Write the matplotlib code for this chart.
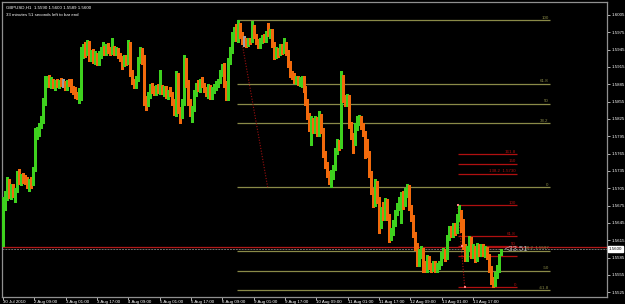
import numpy as np
import matplotlib
matplotlib.use("Agg")
import matplotlib.pyplot as plt

plt.rcParams['font.family'] = ['Liberation Sans', 'DejaVu Sans']

# ---------------- data (GBPUSD H1) ----------------
opens = [1.5610,1.5680,1.5690,1.5718,1.5692,1.5708,1.5695,1.5700,1.5730,1.5715,
 1.5726,1.5720,1.5715,1.5710,1.5718,1.5712,1.5738,1.5800,1.5808,1.5815,
 1.5822,1.5858,1.5892,1.5895,1.5885,1.5890,1.5882,1.5888,1.5884,1.5890,
 1.5886,1.5886,1.5880,1.5888,1.5885,1.5875,1.5872,1.5866,1.5863,1.5865,
 1.5940,1.5950,1.5938,1.5955,1.5932,1.5940,1.5928,1.5936,1.5922,1.5935,
 1.5945,1.5948,1.5940,1.5950,1.5944,1.5940,1.5948,1.5942,1.5945,1.5934,
 1.5930,1.5920,1.5930,1.5925,1.5955,1.5905,1.5890,1.5882,1.5895,1.5928,
 1.5945,1.5925,1.5858,1.5852,1.5868,1.5880,1.5876,1.5870,1.5880,1.5874,
 1.5876,1.5872,1.5878,1.5866,1.5872,1.5868,1.5855,1.5838,1.5900,1.5840,
 1.5830,1.5855,1.5925,1.5888,1.5856,1.5838,1.5842,1.5870,1.5884,1.5878,
 1.5890,1.5884,1.5876,1.5868,1.5880,1.5865,1.5876,1.5882,1.5886,1.5892,
 1.5905,1.5915,1.5885,1.5862,1.5925,1.5945,1.5968,1.5978,1.5965,1.5985,
 1.5970,1.5960,1.5960,1.5958,1.5962,1.5960,1.5985,1.5968,1.5958,1.5952,
 1.5962,1.5966,1.5962,1.5974,1.5972,1.5976,1.5955,1.5935,1.5945,1.5938,
 1.5950,1.5942,1.5955,1.5940,1.5920,1.5902,1.5900,1.5892,1.5896,1.5888,
 1.5894,1.5896,1.5878,1.5855,1.5830,1.5810,1.5822,1.5805,1.5820,1.5800,
 1.5830,1.5806,1.5765,1.5745,1.5730,1.5718,1.5730,1.5740,1.5770,1.5785,
 1.5778,1.5900,1.5860,1.5855,1.5862,1.5815,1.5795,1.5785,1.5812,1.5825,
 1.5828,1.5812,1.5800,1.5785,1.5765,1.5730,1.5700,1.5680,1.5715,1.5685,
 1.5640,1.5665,1.5655,1.5682,1.5655,1.5628,1.5630,1.5645,1.5662,1.5675,
 1.5684,1.5690,1.5678,1.5700,1.5706,1.5672,1.5655,1.5625,1.5605,1.5575,
 1.5595,1.5600,1.5568,1.5565,1.5585,1.5570,1.5565,1.5576,1.5564,1.5570,
 1.5575,1.5590,1.5598,1.5586,1.5620,1.5635,1.5628,1.5640,1.5632,1.5655,
 1.5665,1.5640,1.5605,1.5585,1.5600,1.5618,1.5590,1.5602,1.5585,1.5605,
 1.5592,1.5604,1.5592,1.5600,1.5588,1.5565,1.5548,1.5540,1.5555,1.5566,
 1.5590]
highs = [1.5690,1.5700,1.5725,1.5722,1.5712,1.5712,1.5705,1.5735,1.5738,1.5730,
 1.5732,1.5728,1.5724,1.5722,1.5725,1.5742,1.5810,1.5812,1.5818,1.5830,
 1.5862,1.5900,1.5900,1.5902,1.5898,1.5895,1.5892,1.5894,1.5892,1.5896,
 1.5894,1.5890,1.5892,1.5895,1.5895,1.5882,1.5880,1.5872,1.5878,1.5950,
 1.5955,1.5958,1.5962,1.5960,1.5945,1.5946,1.5942,1.5940,1.5942,1.5950,
 1.5958,1.5952,1.5955,1.5956,1.5950,1.5965,1.5952,1.5950,1.5948,1.5940,
 1.5934,1.5935,1.5936,1.5962,1.5958,1.5910,1.5895,1.5900,1.5932,1.5950,
 1.5948,1.5935,1.5865,1.5872,1.5885,1.5888,1.5882,1.5884,1.5886,1.5910,
 1.5884,1.5882,1.5882,1.5876,1.5880,1.5872,1.5860,1.5908,1.5904,1.5846,
 1.5860,1.5935,1.5930,1.5892,1.5860,1.5848,1.5875,1.5888,1.5892,1.5895,
 1.5898,1.5888,1.5880,1.5885,1.5884,1.5880,1.5886,1.5890,1.5895,1.5910,
 1.5920,1.5922,1.5890,1.5930,1.5950,1.5975,1.5985,1.5990,1.5996,1.5992,
 1.5975,1.5968,1.5966,1.5965,1.5966,1.5994,1.5988,1.5972,1.5964,1.5966,
 1.5970,1.5972,1.5978,1.5992,1.5980,1.5980,1.5958,1.5950,1.5948,1.5955,
 1.5954,1.5965,1.5958,1.5944,1.5925,1.5908,1.5905,1.5900,1.5900,1.5898,
 1.5900,1.5900,1.5882,1.5860,1.5835,1.5830,1.5826,1.5830,1.5828,1.5838,
 1.5834,1.5810,1.5770,1.5750,1.5735,1.5736,1.5745,1.5775,1.5790,1.5788,
 1.5908,1.5902,1.5866,1.5868,1.5866,1.5820,1.5800,1.5818,1.5830,1.5832,
 1.5830,1.5818,1.5805,1.5790,1.5770,1.5735,1.5705,1.5722,1.5718,1.5690,
 1.5672,1.5682,1.5688,1.5686,1.5660,1.5636,1.5650,1.5668,1.5680,1.5690,
 1.5698,1.5700,1.5705,1.5712,1.5710,1.5676,1.5658,1.5630,1.5610,1.5600,
 1.5605,1.5602,1.5580,1.5590,1.5588,1.5575,1.5580,1.5580,1.5575,1.5580,
 1.5595,1.5602,1.5600,1.5625,1.5640,1.5640,1.5645,1.5645,1.5660,1.5676,
 1.5668,1.5652,1.5608,1.5606,1.5622,1.5620,1.5608,1.5606,1.5610,1.5608,
 1.5608,1.5608,1.5606,1.5604,1.5592,1.5570,1.5552,1.5560,1.5572,1.5592,
 1.5600]
lows = [1.5605,1.5668,1.5685,1.5688,1.5686,1.5690,1.5682,1.5698,1.5712,1.5710,
 1.5714,1.5712,1.5705,1.5700,1.5706,1.5710,1.5735,1.5790,1.5795,1.5810,
 1.5818,1.5850,1.5880,1.5880,1.5878,1.5878,1.5876,1.5880,1.5878,1.5882,
 1.5880,1.5876,1.5876,1.5882,1.5872,1.5868,1.5862,1.5860,1.5852,1.5858,
 1.5930,1.5932,1.5935,1.5925,1.5925,1.5922,1.5920,1.5918,1.5918,1.5930,
 1.5938,1.5936,1.5936,1.5940,1.5935,1.5938,1.5936,1.5935,1.5930,1.5925,
 1.5912,1.5916,1.5918,1.5920,1.5900,1.5885,1.5878,1.5878,1.5890,1.5922,
 1.5920,1.5850,1.5840,1.5848,1.5862,1.5870,1.5866,1.5866,1.5870,1.5868,
 1.5868,1.5864,1.5862,1.5860,1.5865,1.5850,1.5832,1.5830,1.5835,1.5818,
 1.5826,1.5850,1.5880,1.5850,1.5830,1.5820,1.5838,1.5865,1.5874,1.5872,
 1.5880,1.5872,1.5864,1.5862,1.5860,1.5860,1.5870,1.5876,1.5880,1.5888,
 1.5900,1.5880,1.5858,1.5858,1.5920,1.5940,1.5960,1.5960,1.5958,1.5965,
 1.5955,1.5952,1.5950,1.5952,1.5955,1.5958,1.5965,1.5955,1.5948,1.5948,
 1.5956,1.5958,1.5958,1.5968,1.5966,1.5950,1.5928,1.5930,1.5932,1.5935,
 1.5938,1.5940,1.5935,1.5915,1.5898,1.5895,1.5888,1.5885,1.5884,1.5882,
 1.5880,1.5872,1.5850,1.5825,1.5805,1.5780,1.5800,1.5800,1.5795,1.5796,
 1.5800,1.5760,1.5740,1.5725,1.5712,1.5707,1.5722,1.5736,1.5765,1.5772,
 1.5774,1.5855,1.5848,1.5848,1.5810,1.5790,1.5766,1.5780,1.5806,1.5815,
 1.5808,1.5795,1.5758,1.5760,1.5725,1.5695,1.5672,1.5675,1.5680,1.5628,
 1.5636,1.5650,1.5650,1.5650,1.5612,1.5615,1.5625,1.5640,1.5658,1.5668,
 1.5645,1.5670,1.5675,1.5690,1.5668,1.5648,1.5620,1.5598,1.5570,1.5570,
 1.5585,1.5560,1.5560,1.5560,1.5565,1.5560,1.5562,1.5560,1.5560,1.5565,
 1.5572,1.5585,1.5580,1.5582,1.5615,1.5620,1.5620,1.5625,1.5628,1.5648,
 1.5630,1.5600,1.5580,1.5580,1.5596,1.5585,1.5584,1.5578,1.5580,1.5588,
 1.5588,1.5588,1.5586,1.5582,1.5560,1.5540,1.5534,1.5536,1.5550,1.5560,
 1.5589]
closes = [1.5680,1.5690,1.5718,1.5692,1.5708,1.5695,1.5700,1.5730,1.5715,1.5726,
 1.5720,1.5715,1.5710,1.5718,1.5712,1.5738,1.5800,1.5808,1.5815,1.5822,
 1.5858,1.5892,1.5895,1.5885,1.5890,1.5882,1.5888,1.5884,1.5890,1.5886,
 1.5886,1.5880,1.5888,1.5885,1.5875,1.5872,1.5866,1.5863,1.5865,1.5940,
 1.5950,1.5938,1.5955,1.5932,1.5940,1.5928,1.5936,1.5922,1.5935,1.5945,
 1.5948,1.5940,1.5950,1.5944,1.5940,1.5948,1.5942,1.5945,1.5934,1.5930,
 1.5920,1.5930,1.5925,1.5955,1.5905,1.5890,1.5882,1.5895,1.5928,1.5945,
 1.5925,1.5858,1.5852,1.5868,1.5880,1.5876,1.5870,1.5880,1.5874,1.5876,
 1.5872,1.5878,1.5866,1.5872,1.5868,1.5855,1.5838,1.5900,1.5840,1.5830,
 1.5855,1.5925,1.5888,1.5856,1.5838,1.5842,1.5870,1.5884,1.5878,1.5890,
 1.5884,1.5876,1.5868,1.5880,1.5865,1.5876,1.5882,1.5886,1.5892,1.5905,
 1.5915,1.5885,1.5862,1.5925,1.5945,1.5968,1.5978,1.5965,1.5985,1.5970,
 1.5960,1.5960,1.5958,1.5962,1.5960,1.5985,1.5968,1.5958,1.5952,1.5962,
 1.5966,1.5962,1.5974,1.5972,1.5976,1.5955,1.5935,1.5945,1.5938,1.5950,
 1.5942,1.5955,1.5940,1.5920,1.5902,1.5900,1.5892,1.5896,1.5888,1.5894,
 1.5896,1.5878,1.5855,1.5830,1.5810,1.5822,1.5805,1.5820,1.5800,1.5830,
 1.5806,1.5765,1.5745,1.5730,1.5718,1.5730,1.5740,1.5770,1.5785,1.5778,
 1.5900,1.5860,1.5855,1.5862,1.5815,1.5795,1.5785,1.5812,1.5825,1.5828,
 1.5812,1.5800,1.5785,1.5765,1.5730,1.5700,1.5680,1.5715,1.5685,1.5640,
 1.5665,1.5655,1.5682,1.5655,1.5628,1.5630,1.5645,1.5662,1.5675,1.5684,
 1.5690,1.5678,1.5700,1.5706,1.5672,1.5655,1.5625,1.5605,1.5575,1.5595,
 1.5600,1.5568,1.5565,1.5585,1.5570,1.5565,1.5576,1.5564,1.5570,1.5575,
 1.5590,1.5598,1.5586,1.5620,1.5635,1.5628,1.5640,1.5632,1.5655,1.5665,
 1.5640,1.5605,1.5585,1.5600,1.5618,1.5590,1.5602,1.5585,1.5605,1.5592,
 1.5604,1.5592,1.5600,1.5588,1.5565,1.5548,1.5540,1.5555,1.5566,1.5590,
 1.5600]

time_labels = ["30 Jul 2010", "2 Aug 09:00", "3 Aug 01:00", "3 Aug 17:00",
               "4 Aug 09:00", "5 Aug 01:00", "5 Aug 17:00", "6 Aug 09:00",
               "9 Aug 01:00", "9 Aug 17:00", "10 Aug 09:00", "11 Aug 01:00",
               "11 Aug 17:00", "12 Aug 09:00", "13 Aug 01:00", "13 Aug 17:00"]
price_ticks = [1.6005, 1.5975, 1.5945, 1.5915, 1.5885, 1.5855, 1.5825, 1.5795,
               1.5765, 1.5735, 1.5705, 1.5675, 1.5645, 1.5615, 1.5585, 1.5555, 1.5525]

# Fibonacci retracement 1 (olive)
fib1_high = 1.5996
fib1_low = 1.5707
fib1_levels = [100, 61.8, 50, 38.2, 0, -38.2, -50, -61.8]
fib1_labels = ["100", "61.8", "50", "38.2", "0", "-38.2  1.5597", "-50", "-61.8"]
# Fibonacci retracement 2 (red)
fib2_high = 1.5676
fib2_low = 1.5534
fib2_levels = [161.8, 150, 138.2, 100, 61.8, 50, 38.2, 0]
fib2_labels = ["161.8", "150", "138.2  1.5730", "100", "61.8", "50", "", "0"]

bid = 1.5600
ask = 1.5603
title_text = "GBPUSD,H1  1.5590 1.5600 1.5589 1.5600"
timer_text = "33 minutes 51 seconds left to bar end"
counter_text = "<33.51"

# ---------------- figure ----------------
W, H = 625, 304
fig = plt.figure(figsize=(W / 100, H / 100), dpi=100, facecolor="black")
ax = fig.add_axes([2 / W, 1 - 297 / H, 605 / W, 295 / H])
ax.set_facecolor("black")

o = np.array(opens); h = np.array(highs); l = np.array(lows); c = np.array(closes)
idx = np.arange(len(c))
UP = "#3ed11e"
DN = "#f26a0c"
DOJ = "#a0a0a0"
cols = [UP if cc > oo else (DN if cc < oo else DOJ) for oo, cc in zip(o, c)]

ax.vlines(idx, l, h, colors=cols, linewidth=0.75, zorder=3, antialiased=False)
body_lo = np.minimum(o, c)
body_h = np.maximum(np.abs(c - o), 0.00012)
ax.bar(idx, body_h, bottom=body_lo, width=0.8, color=cols, linewidth=0,
       zorder=3, antialiased=False)

ax.set_xlim(-0.5, 303.5)
ax.set_ylim(1.55169, 1.60275)

OLIVE = "#8a8a48"
RED = "#b01010"
LAB = 3.2

# fib 1
f1_x0, f1_x1 = 117.5, 275.0
rng1 = fib1_high - fib1_low
for lev, lab in zip(fib1_levels, fib1_labels):
    yv = fib1_low + rng1 * lev / 100.0
    ax.hlines(yv, f1_x0, f1_x1, color=OLIVE, linewidth=0.9, zorder=2)
    ax.text(f1_x1 - 0.8, yv + 0.00010, lab, color=OLIVE, fontsize=LAB,
            ha="right", va="bottom", zorder=4)
ax.plot([118.5, 133.0], [fib1_high - 0.0008, fib1_low], color="#a01010",
        linestyle=(0, (1, 1.5)), linewidth=0.8, zorder=2)

# fib 2
f2_x0, f2_x1 = 228.5, 258.5
rng2 = fib2_high - fib2_low
for lev, lab in zip(fib2_levels, fib2_labels):
    yv = fib2_low + rng2 * lev / 100.0
    ax.hlines(yv, f2_x0, f2_x1, color=RED, linewidth=0.9, zorder=2)
    if lab:
        ax.text(f2_x1 - 0.8, yv + 0.00010, lab, color=RED, fontsize=LAB,
                ha="right", va="bottom", zorder=4)
ax.plot([228.5, 232.0], [fib2_high, fib2_low], color=RED,
        linestyle=(0, (1, 1.5)), linewidth=0.8, zorder=2)
ax.scatter([228.5, 230.5, 232.0], [fib2_high, 1.5605, fib2_low], marker="s",
           s=3, color="#ff8080", zorder=5, linewidths=0)

# bid / ask lines
ax.axhline(ask, color="#b01818", linewidth=0.9, zorder=1)
ax.axhline(bid, color="#707070", linewidth=0.7, linestyle=(0, (2, 1)), zorder=1)

# texts
ax.text(0.006, 0.988, title_text, transform=ax.transAxes, color="white",
        fontsize=3.2, ha="left", va="top")
ax.text(0.006, 0.962, timer_text, transform=ax.transAxes, color="white",
        fontsize=3.2, ha="left", va="top")
ax.text(252.0, bid - 0.0001, counter_text, color="#b8b8b8", fontsize=5.5,
        ha="left", va="center", zorder=6)

# axes styling
for s in ax.spines.values():
    s.set_color("#909090")
    s.set_linewidth(0.9)
ax.yaxis.tick_right()
ax.set_yticks(price_ticks)
ax.set_yticklabels([f"{p:.4f}" for p in price_ticks])
ax.tick_params(axis="y", colors="#d0d0d0", labelsize=3.2, length=2, width=0.6,
               pad=1.2, labelcolor="white")
tick_pos = np.arange(len(time_labels)) * 15.75
ax.set_xticks(tick_pos)
ax.set_xticklabels(time_labels)
ax.tick_params(axis="x", colors="#d0d0d0", labelsize=3.2, length=2, width=0.6,
               pad=0.3, labelcolor="white")
for t in ax.get_xticklabels():
    t.set_horizontalalignment("left")

# current price box
ax.annotate(f"{bid:.4f}", xy=(1.0, bid), xycoords=("axes fraction", "data"),
            xytext=(1.2, 0), textcoords="offset points", fontsize=3.2,
            color="black", ha="left", va="center",
            bbox=dict(boxstyle="square,pad=0.2", fc="white", ec="white"),
            annotation_clip=False, zorder=10)

fig.savefig("out.png", dpi=100, facecolor="black")
